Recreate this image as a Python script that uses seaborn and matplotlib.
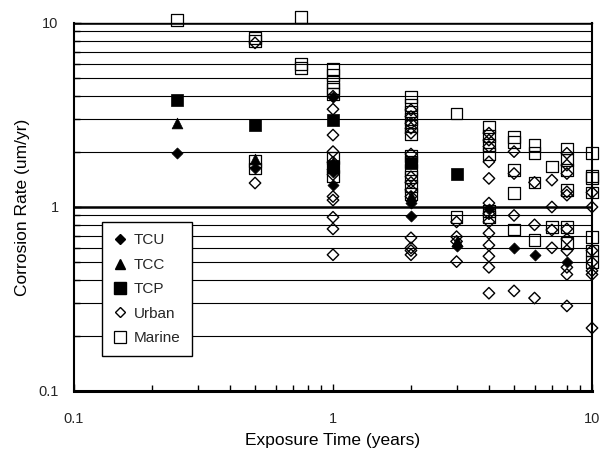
import numpy as np
import pandas as pd
import seaborn as sns
import matplotlib.pyplot as plt
from matplotlib.lines import Line2D
from matplotlib.ticker import FixedLocator, FixedFormatter, NullFormatter

# Exposure times (years) and corrosion rates (um/yr) for each data set
tcu_t = [0.25, 0.5, 1, 1, 1, 2, 2, 3, 4, 5, 6, 8]
tcu_r = [1.97, 1.62, 3.95, 1.55, 1.32, 1.05, 0.89, 0.61, 0.98, 0.60, 0.55, 0.50]

tcc_t = [0.25, 0.5, 1, 2, 3]
tcc_r = [2.86, 1.82, 1.75, 1.15, 0.65]

tcp_t = [0.25, 0.5, 1, 1, 2, 3]
tcp_r = [3.82, 2.78, 2.97, 1.68, 1.73, 1.52]

urban_t = ([0.5] * 2 + [1] * 12 + [2] * 14 + [3] * 4 + [4] * 13 + [5] * 4
           + [6] * 3 + [7] * 4 + [8] * 11 + [10] * 7)
urban_r = [7.8, 1.35,
           4.0, 3.4, 2.46, 2.0, 1.75, 1.6, 1.5, 1.14, 1.09, 0.88, 0.76, 0.55,
           3.37, 3.1, 2.85, 2.68, 2.52, 1.94, 1.46, 1.36, 1.24, 1.14, 0.68, 0.60, 0.58, 0.55,
           0.83, 0.69, 0.65, 0.505,
           2.52, 2.31, 2.13, 1.76, 1.43, 1.05, 0.92, 0.83, 0.72, 0.62, 0.54, 0.47, 0.34,
           2.0, 1.52, 0.90, 0.35,
           1.36, 0.80, 0.32,
           1.40, 1.0, 0.75, 0.60,
           1.96, 1.69, 1.52, 1.21, 1.16, 0.76, 0.67, 0.58, 0.47, 0.43, 0.29,
           1.20, 1.0, 0.58, 0.50, 0.45, 0.43, 0.22]

marine_t = ([0.25] + [0.5] * 4 + [0.75] * 3 + [1] * 8 + [2] * 12 + [3] * 2
            + [4] * 6 + [5] * 5 + [6] * 4 + [7] * 2 + [8] * 6 + [10] * 7)
marine_r = [10.4,
            8.3, 7.95, 1.78, 1.62,
            10.8, 6.0, 5.7,
            5.6, 5.2, 4.8, 4.4, 4.1, 1.85, 1.65, 1.48,
            3.96, 3.6, 3.3, 3.0, 2.75, 2.5, 1.9, 1.75, 1.6, 1.45, 1.3, 1.18,
            3.22, 0.88,
            2.72, 2.43, 2.17, 1.95, 0.95, 0.88,
            2.41, 2.26, 1.59, 1.19, 0.755,
            2.17, 1.96, 1.36, 0.66,
            1.66, 0.78,
            2.08, 1.80, 1.59, 1.24, 0.78, 0.64,
            1.96, 1.48, 1.44, 1.20, 0.69, 0.58, 0.50]

x_ticks = [0.1, 1, 10]
x_tick_labels = ["0.1", "1", "10"]
y_ticks = [0.1, 1, 10]
y_tick_labels = ["0.1", "1", "10"]

sns.set_theme(style="white")
plt.rcParams['font.family'] = ['Liberation Sans', 'DejaVu Sans']

fig = plt.figure(figsize=(6.03, 4.54), dpi=100)
ax = fig.add_axes([74 / 603, 1 - 391 / 454, 518 / 603, 368 / 454])


def frame(t, r):
    return pd.DataFrame({"time": t, "rate": r})


# open symbols first, filled symbols on top
sns.scatterplot(data=frame(marine_t, marine_r), x="time", y="rate", ax=ax,
                marker="s", s=72, facecolor="none", edgecolor="black",
                linewidth=0.9, clip_on=False, zorder=3)
sns.scatterplot(data=frame(urban_t, urban_r), x="time", y="rate", ax=ax,
                marker="D", s=34, facecolor="none", edgecolor="black",
                linewidth=1.0, clip_on=False, zorder=4)
sns.scatterplot(data=frame(tcp_t, tcp_r), x="time", y="rate", ax=ax,
                marker="s", s=72, color="black", edgecolor="black",
                linewidth=0.5, clip_on=False, zorder=5)
sns.scatterplot(data=frame(tcc_t, tcc_r), x="time", y="rate", ax=ax,
                marker="^", s=60, color="black", edgecolor="black",
                linewidth=0.5, clip_on=False, zorder=5)
sns.scatterplot(data=frame(tcu_t, tcu_r), x="time", y="rate", ax=ax,
                marker="D", s=32, color="black", edgecolor="black",
                linewidth=0.5, clip_on=False, zorder=6)

ax.set_xscale("log")
ax.set_yscale("log")
ax.set_xlim(0.1, 10)
ax.set_ylim(0.1, 10)

minor_vals = [m * d for d in (0.1, 1) for m in range(2, 10)]
ax.xaxis.set_major_locator(FixedLocator(x_ticks))
ax.xaxis.set_major_formatter(FixedFormatter(x_tick_labels))
ax.xaxis.set_minor_locator(FixedLocator(minor_vals))
ax.xaxis.set_minor_formatter(NullFormatter())
ax.yaxis.set_major_locator(FixedLocator(y_ticks))
ax.yaxis.set_major_formatter(FixedFormatter(y_tick_labels))
ax.yaxis.set_minor_locator(FixedLocator(minor_vals))
ax.yaxis.set_minor_formatter(NullFormatter())

ax.tick_params(axis="both", which="both", direction="in", color="black",
               left=True, bottom=True, right=False, top=False)
ax.tick_params(axis="x", which="major", length=5, width=1, pad=15, labelsize=10.5)
ax.tick_params(axis="x", which="minor", length=4, width=1)
ax.tick_params(axis="y", which="major", length=5, width=1, pad=11, labelsize=10.5)
ax.tick_params(axis="y", which="minor", length=4, width=1)

# horizontal reference lines at every decade step
ax.set_axisbelow(True)
ax.yaxis.grid(True, which="major", color="black", linewidth=1.8)
ax.yaxis.grid(True, which="minor", color="black", linewidth=0.8)
ax.xaxis.grid(False)

for side in ("left", "right", "top", "bottom"):
    ax.spines[side].set_visible(True)
    ax.spines[side].set_color("black")
ax.spines["bottom"].set_linewidth(2.2)
ax.spines["left"].set_linewidth(1.5)
ax.spines["right"].set_linewidth(1.5)
ax.spines["top"].set_linewidth(1.0)

ax.set_xlabel("Exposure Time (years)", fontsize=12.5, labelpad=5, color="black")
ax.set_ylabel("Corrosion Rate (um/yr)", fontsize=12.5, labelpad=6, color="black")

handles = [
    Line2D([], [], ls="", marker="D", markersize=5.5, color="black"),
    Line2D([], [], ls="", marker="^", markersize=7.5, color="black"),
    Line2D([], [], ls="", marker="s", markersize=8.5, color="black"),
    Line2D([], [], ls="", marker="D", markersize=5.5, markerfacecolor="white",
           markeredgecolor="black", markeredgewidth=1.0),
    Line2D([], [], ls="", marker="s", markersize=8.5, markerfacecolor="white",
           markeredgecolor="black", markeredgewidth=0.9),
]
labels = ["TCU", "TCC", "TCP", "Urban", "Marine"]
leg = ax.legend(handles, labels, loc="upper left",
                bbox_to_anchor=(28 / 518, (391 - 222) / 368), borderaxespad=0,
                frameon=True, fancybox=False, framealpha=1, edgecolor="black",
                fontsize=11, handlelength=0.9, handletextpad=0.45,
                labelspacing=0.68, borderpad=0.75)
leg.get_frame().set_linewidth(1.0)
leg.set_zorder(10)

fig.savefig("out.png", dpi=100, facecolor="white")
